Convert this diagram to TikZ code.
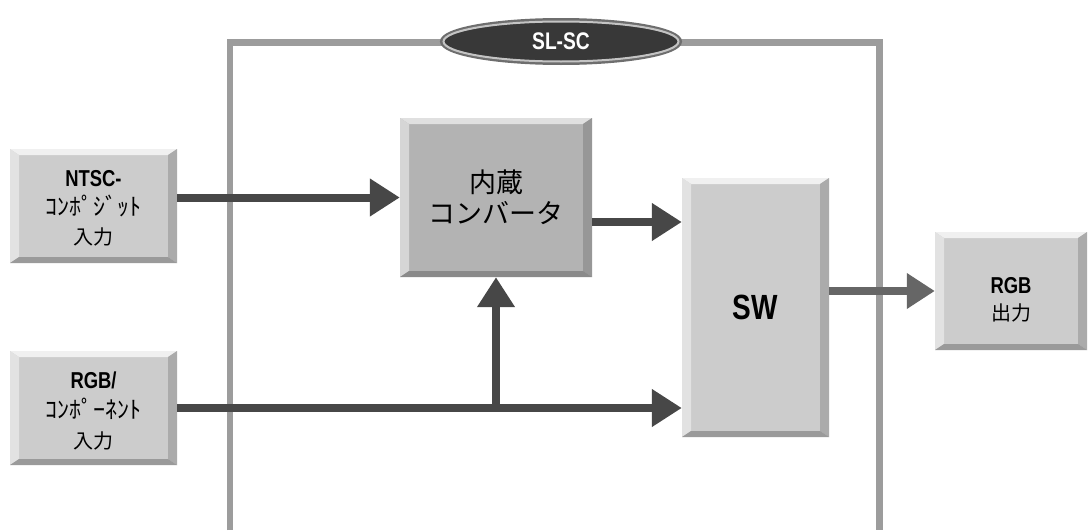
\documentclass[tikz,border=0pt]{standalone}
\usepackage{fontspec}
\usetikzlibrary{arrows.meta,shapes.geometric}
\newfontfamily\jp{Noto Sans CJK JP}
\newfontfamily\nb{Liberation Sans}[FakeStretch=0.8]
\definecolor{facec}{HTML}{CCCCCC}
\definecolor{topc}{HTML}{F0F0F0}
\definecolor{leftc}{HTML}{E2E2E2}
\definecolor{rightc}{HTML}{ABABAB}
\definecolor{botc}{HTML}{9A9A9A}
\definecolor{cface}{HTML}{B3B3B3}
\definecolor{ctop}{HTML}{E0E0E0}
\definecolor{cleft}{HTML}{D6D6D6}
\definecolor{cright}{HTML}{979797}
\definecolor{cbot}{HTML}{8A8A8A}
\definecolor{arrc}{HTML}{474747}
\definecolor{arrlc}{HTML}{666666}
\definecolor{framec}{HTML}{9C9C9C}
\definecolor{ellc}{HTML}{383838}
\definecolor{rimc}{HTML}{C4C4C4}
\definecolor{rimo}{HTML}{6E6E6E}
\newcommand{\ppb}[1]{(path picture bounding box.#1)}
\tikzset{
  bevel/.style n args={5}{fill=#1, draw=none, inner sep=0pt, align=center,
    path picture={
      \fill[#2] \ppb{north west} -- \ppb{north east} -- ([xshift=-9pt,yshift=-6pt]path picture bounding box.north east) -- ([xshift=9pt,yshift=-6pt]path picture bounding box.north west) -- cycle;
      \fill[#3] \ppb{north west} -- ([xshift=9pt,yshift=-6pt]path picture bounding box.north west) -- ([xshift=9pt,yshift=6pt]path picture bounding box.south west) -- \ppb{south west} -- cycle;
      \fill[#4] \ppb{north east} -- \ppb{south east} -- ([xshift=-9pt,yshift=6pt]path picture bounding box.south east) -- ([xshift=-9pt,yshift=-6pt]path picture bounding box.north east) -- cycle;
      \fill[#5] \ppb{south west} -- \ppb{south east} -- ([xshift=-9pt,yshift=6pt]path picture bounding box.south east) -- ([xshift=9pt,yshift=6pt]path picture bounding box.south west) -- cycle;
    }},
  stdbox/.style={bevel={facec}{topc}{leftc}{rightc}{botc}},
  convbox/.style={bevel={cface}{ctop}{cleft}{cright}{cbot}},
  arr/.style={draw=arrc, line width=8pt, -{Triangle[length=30pt,width=36pt]}},
  arrl/.style={draw=arrlc, line width=8pt, -{Triangle[length=28pt,width=34pt]}}
}
\begin{document}
\begin{tikzpicture}[x=1pt,y=-1pt]
\useasboundingbox (0,0) rectangle (1089,530);
% frame
\draw[framec, line width=6.5pt] (230,530) -- (230,42.5) -- (879.5,42.5) -- (879.5,530);
% boxes
\node[stdbox, font=\fontsize{20}{29}\selectfont, minimum width=167pt, minimum height=114pt] (ntsc) at (93.5,206)
  {{\rule{0pt}{21pt}\nb\bfseries\fontsize{23}{29}\selectfont NTSC-}\\{\jp\fontsize{24}{29}\selectfont ｺﾝﾎﾟｼﾞｯﾄ}\\{\jp\fontsize{20}{29}\selectfont 入力}};
\node[stdbox, font=\fontsize{20}{30}\selectfont, minimum width=167pt, minimum height=114pt] (rgbin) at (93.5,408)
  {{\rule{0pt}{22pt}\nb\bfseries\fontsize{23}{30}\selectfont RGB/}\\{\jp\fontsize{24}{30}\selectfont ｺﾝﾎﾟｰﾈﾝﾄ}\\{\jp\fontsize{20}{30}\selectfont 入力}};
\node[convbox, font=\fontsize{27}{31}\selectfont, minimum width=192pt, minimum height=159pt] (conv) at (496,197.5)
  {{\jp 内蔵}\\{\jp コンバータ}};
\node[stdbox, minimum width=147pt, minimum height=259pt] (sw) at (755.5,307.5)
  {\nb\bfseries\fontsize{35}{40}\selectfont SW};
\node[stdbox, font=\fontsize{20}{27}\selectfont, minimum width=152pt, minimum height=118pt] (out) at (1011,291)
  {{\rule{0pt}{33pt}\nb\bfseries\fontsize{23}{27}\selectfont RGB}\\{\jp\fontsize{20}{27}\selectfont 出力}};
% title ellipse
\node[ellipse, fill=ellc, draw=rimo, line width=4pt, minimum width=238pt, minimum height=43pt, inner sep=0pt,
      text=white, font=\nb\bfseries\fontsize{24}{26}\selectfont] (slsc) at (561,41.5) {SL-SC};
\draw[rimc, line width=2pt] (slsc.center) ellipse [x radius=117.5pt, y radius=20pt];
% connectors
\coordinate (j) at (conv.south |- rgbin.east);
\coordinate (c1) at ([yshift=-24.5pt]conv.east);
\draw[arr] (ntsc.east |- conv.west) -- (conv.west);
\draw[arr] (c1) -- (sw.west |- c1);
\draw[arr] (rgbin.east) -- (sw.west |- rgbin.east);
\draw[arr] (j) -- (conv.south);
\draw[arrl] (sw.east |- out.west) -- (out.west);
\end{tikzpicture}
\end{document}
